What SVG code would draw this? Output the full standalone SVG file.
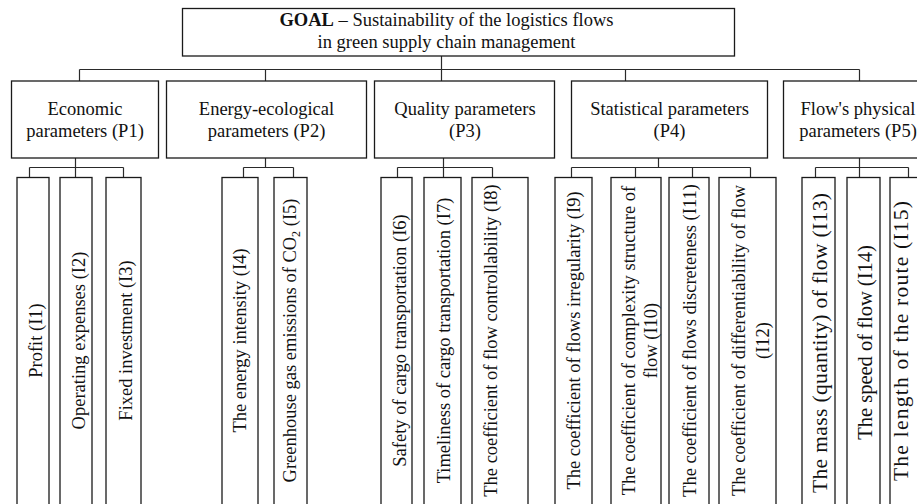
<svg xmlns="http://www.w3.org/2000/svg" width="917" height="504" viewBox="0 0 917 504">
<style>
.box{fill:#fff;stroke:#1a1a1a;stroke-width:1.3}
.con{fill:none;stroke:#2a2a2a;stroke-width:1.2}
text{font-family:"Liberation Serif","Times New Roman",serif;font-size:18.5px;fill:#111}
.mid{text-anchor:middle}
.big{font-size:20.5px}
.bigger{font-size:21.5px}
</style>
<rect width="917" height="504" fill="#fff"/>
<g id="connectors">
<path class="con" d="M441.5,56 V69.5 M79.5,69.5 H859.5 M79.5,69.5 V81 M265.5,69.5 V81 M441.5,69.5 V81 M625.5,69.5 V81 M859.5,69.5 V81"/>
<path class="con" d="M75.5,158 V167.5 M29.5,167.5 H123.5 M29.5,167.5 V177.5 M75.5,167.5 V177.5 M123.5,167.5 V177.5"/>
<path class="con" d="M265.5,158 V167.5 M243.5,167.5 H293.5 M243.5,167.5 V177.5 M293.5,167.5 V177.5"/>
<path class="con" d="M443.5,158 V167.5 M397.5,167.5 H492.5 M397.5,167.5 V177.5 M443.5,167.5 V177.5 M492.5,167.5 V177.5"/>
<path class="con" d="M658.5,158 V167.5 M571.5,167.5 H750.5 M571.5,167.5 V177.5 M635.5,167.5 V177.5 M692.5,167.5 V177.5 M750.5,167.5 V177.5"/>
<path class="con" d="M859.5,158 V167.5 M815.5,167.5 H908.5 M815.5,167.5 V177.5 M859.5,167.5 V177.5 M908.5,167.5 V177.5"/>
</g>
<g id="goal">
<rect class="box" x="182.5" y="8.5" width="552" height="47.5"/>
<text class="mid" x="446.5" y="26"><tspan font-weight="bold">GOAL</tspan> – Sustainability of the logistics flows</text>
<text class="mid" x="446.5" y="48">in green supply chain management</text>
</g>
<g id="P1">
<rect class="box" x="11.5" y="81" width="147" height="77"/>
<text class="mid" x="85" y="114.5">Economic</text>
<text class="mid" x="85" y="137">parameters (P1)</text>
</g>
<g id="P2">
<rect class="box" x="166.5" y="81" width="200" height="77"/>
<text class="mid" x="266.5" y="114.5">Energy-ecological</text>
<text class="mid" x="266.5" y="137">parameters (P2)</text>
</g>
<g id="P3">
<rect class="box" x="374.5" y="81" width="180" height="77"/>
<text class="mid" x="465" y="114.5">Quality parameters</text>
<text class="mid" x="465" y="137">(P3)</text>
</g>
<g id="P4">
<rect class="box" x="571.5" y="81" width="196" height="77"/>
<text class="mid" x="669.5" y="114.5">Statistical parameters</text>
<text class="mid" x="669.5" y="137">(P4)</text>
</g>
<g id="P5">
<rect class="box" x="783.5" y="81" width="150" height="77"/>
<text class="mid" x="858" y="114.5">Flow's physical</text>
<text class="mid" x="858" y="137">parameters (P5)</text>
</g>
<g id="I1"><rect class="box" x="17" y="177.5" width="32" height="330"/><text class="mid" transform="translate(42,340.5) rotate(-90)">Profit (I1)</text></g>
<g id="I2"><rect class="box" x="60" y="177.5" width="32" height="330"/><text class="mid" transform="translate(85,340.5) rotate(-90)">Operating expenses (I2)</text></g>
<g id="I3"><rect class="box" x="106" y="177.5" width="35" height="330"/><text class="mid" transform="translate(131.5,340.5) rotate(-90)">Fixed investment (I3)</text></g>
<g id="I4"><rect class="box" x="222" y="177.5" width="36" height="330"/><text class="mid" transform="translate(245.5,340.5) rotate(-90)">The energy intensity (I4)</text></g>
<g id="I5"><rect class="box" x="274" y="177.5" width="33" height="330"/><text class="mid" transform="translate(296,340.5) rotate(-90)">Greenhouse gas emissions of CO<tspan font-size="12" dy="4">2</tspan><tspan dy="-4"> (I5)</tspan></text></g>
<g id="I6"><rect class="box" x="381" y="177.5" width="31" height="330"/><text class="mid" transform="translate(406,340.5) rotate(-90)">Safety of cargo transportation (I6)</text></g>
<g id="I7"><rect class="box" x="424" y="177.5" width="37" height="330"/><text class="mid" transform="translate(449.5,340.5) rotate(-90)">Timeliness of cargo transportation (I7)</text></g>
<g id="I8"><rect class="box" x="472" y="177.5" width="56" height="330"/><text class="mid" transform="translate(496.5,340.5) rotate(-90)">The coefficient of flow controllability (I8)</text></g>
<g id="I9"><rect class="box" x="555" y="177.5" width="37" height="330"/><text class="mid" transform="translate(580,340.5) rotate(-90)">The coefficient of flows irregularity (I9)</text></g>
<g id="I10"><rect class="box" x="611" y="177.5" width="50" height="330"/><text class="mid" transform="translate(635,340.5) rotate(-90)">The coefficient of complexity structure of</text><text class="mid" transform="translate(656.5,340.5) rotate(-90)">flow (I10)</text></g>
<g id="I11"><rect class="box" x="669" y="177.5" width="40" height="330"/><text class="mid" transform="translate(695.5,340.5) rotate(-90)">The coefficient of flows discreteness (I11)</text></g>
<g id="I12"><rect class="box" x="719" y="177.5" width="57" height="330"/><text class="mid" transform="translate(745,340.5) rotate(-90)">The coefficient of differentiability of flow</text><text class="mid" transform="translate(769,340.5) rotate(-90)">(I12)</text></g>
<g id="I13"><rect class="box" x="802" y="177.5" width="33" height="330"/><text class="mid bigger" transform="translate(827,343) rotate(-90)" textLength="300">The mass (quantity) of flow (I13)</text></g>
<g id="I14"><rect class="box" x="847" y="177.5" width="33" height="330"/><text class="mid big" transform="translate(871.5,342.5) rotate(-90)">The speed of flow (I14)</text></g>
<g id="I15"><rect class="box" x="890" y="177.5" width="40" height="330"/><text class="mid bigger" transform="translate(908,341) rotate(-90)" textLength="280">The length of the route (I15)</text></g>
</svg>
